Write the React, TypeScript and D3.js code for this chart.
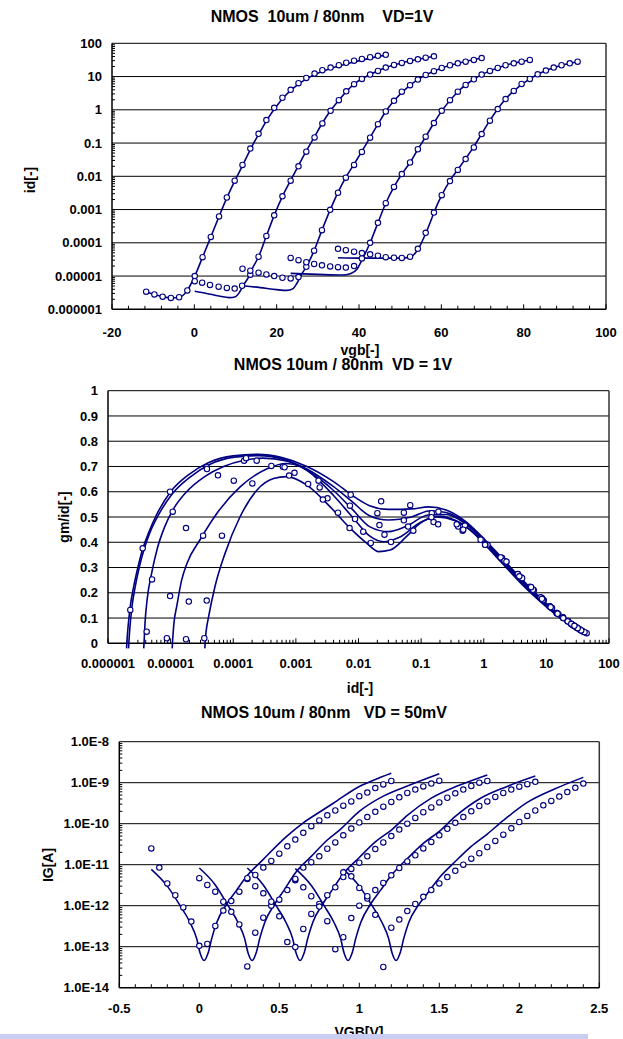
import React from "react";
import * as d3 from "d3";

const W = 623;
const H = 1039;
const NAVY = "#000080";
const FONT = "'Liberation Sans', Arial, Helvetica, sans-serif";

// ---------- chart 1 : id vs vgb (log) ----------
const idTicks = [1e-6, 1e-5, 1e-4, 1e-3, 1e-2, 0.1, 1, 10, 100];
const idTickLabels = ["0.000001", "0.00001", "0.0001", "0.001", "0.01", "0.1", "1", "10", "100"];
const vgbTicks = [-20, 0, 20, 40, 60, 80, 100];

const idMeas1 = [[-11.7, 3.4e-6], [-9.7, 2.8e-6], [-7.7, 2.4e-6], [-5.7, 2.2e-6], [-3.7, 2.3e-6], [-1.7, 3.7e-6], [0.1, 1.0e-5], [2.0, 3.7e-5], [4.0, 1.5e-4], [6.0, 6.2e-4], [7.9, 2.3e-3], [9.8, 7.4e-3], [11.7, 0.022], [13.6, 0.068], [15.6, 0.19], [17.5, 0.49], [19.4, 1.15], [21.4, 2.3], [23.4, 4.0], [25.3, 6.3], [27.2, 9.1], [29.2, 12.3], [31.1, 15.5], [33.1, 18.6], [35.1, 22], [36.9, 26], [38.8, 30], [40.7, 34], [42.7, 38], [44.6, 42], [46.5, 45]];
const idMeas2 = [[0.1, 7.0e-6], [1.9, 6.3e-6], [3.8, 5.4e-6], [5.9, 4.8e-6], [7.9, 4.4e-6], [9.8, 4.2e-6], [11.6, 5.1e-6], [13.6, 1.1e-5], [15.6, 3.8e-5], [17.5, 1.6e-4], [19.4, 6.7e-4], [21.4, 2.5e-3], [23.4, 7.4e-3], [25.3, 0.02], [27.2, 0.055], [29.2, 0.148], [31.1, 0.39], [33.1, 0.93], [35.1, 1.95], [36.9, 3.6], [38.8, 5.9], [40.7, 8.5], [42.7, 11.5], [44.6, 14.8], [46.5, 18.6], [48.5, 22.4], [50.4, 25.7], [52.4, 29.5], [54.3, 33], [56.2, 37], [58.2, 40.7]];
const idMeas3 = [[11.7, 1.66e-5], [13.6, 1.45e-5], [15.6, 1.26e-5], [17.5, 1.12e-5], [19.4, 1.0e-5], [21.4, 8.9e-6], [23.4, 8.5e-6], [25.3, 9.3e-6], [27.2, 1.9e-5], [29.1, 5.8e-5], [31.0, 2.4e-4], [33.0, 9.8e-4], [34.9, 3.2e-3], [36.8, 9.1e-3], [38.8, 0.022], [40.7, 0.054], [42.7, 0.145], [44.6, 0.37], [46.5, 0.89], [48.5, 1.86], [50.4, 3.5], [52.4, 5.5], [54.3, 8.1], [56.2, 11.2], [58.2, 14.5], [60.1, 18.2], [62.1, 21.9], [64.0, 25], [65.9, 28], [67.9, 31.6], [69.8, 36]];
const idMeas4 = [[23.4, 3.5e-5], [25.3, 3.0e-5], [27.2, 2.6e-5], [29.1, 2.3e-5], [31.0, 2.1e-5], [33.0, 1.95e-5], [34.9, 1.85e-5], [36.8, 1.8e-5], [38.8, 2.0e-5], [40.7, 3.4e-5], [42.7, 1.0e-4], [44.6, 4.0e-4], [46.5, 1.55e-3], [48.5, 4.8e-3], [50.4, 0.0117], [52.4, 0.026], [54.3, 0.065], [56.2, 0.155], [58.2, 0.4], [60.1, 0.93], [62.1, 1.95], [64.0, 3.5], [65.9, 5.6], [67.9, 8.3], [69.8, 11.5], [71.8, 14.8], [73.7, 18.2], [75.6, 21.9], [77.6, 25], [79.5, 28], [81.5, 31.6]];
const idMeas5 = [[34.9, 6.6e-5], [36.8, 6.0e-5], [38.8, 5.4e-5], [40.7, 4.9e-5], [42.7, 4.5e-5], [44.6, 4.1e-5], [46.5, 3.7e-5], [48.5, 3.55e-5], [50.4, 3.5e-5], [52.4, 3.8e-5], [54.3, 6.6e-5], [56.2, 2.0e-4], [58.2, 8.1e-4], [60.1, 2.7e-3], [62.1, 7.2e-3], [64.0, 0.0155], [65.9, 0.033], [67.9, 0.074], [69.8, 0.186], [71.8, 0.47], [73.7, 1.05], [75.6, 2.1], [77.6, 3.7], [79.5, 6.0], [81.5, 8.5], [83.4, 11.7], [85.4, 15.1], [87.3, 18.6], [89.2, 21.9], [91.2, 25], [93.1, 28]];

const idSim1 = [[-11.7, 3.4e-6], [-9.7, 2.8e-6], [-7.7, 2.4e-6], [-5.7, 2.2e-6], [-3.7, 2.3e-6], [-1.7, 3.7e-6], [0.1, 1.0e-5], [2.0, 3.7e-5], [4.0, 1.5e-4], [6, 6.2e-4], [8, 2.4e-3], [10, 8e-3], [12, 0.025], [14, 0.08], [16, 0.22], [18, 0.58], [20, 1.3], [22, 2.6], [24, 4.4], [26, 6.8], [28, 9.6], [30, 12.6], [34, 19], [38, 26], [42, 34], [46.5, 44]];
const idSim2 = [[0.1, 3.5e-6], [3, 3.0e-6], [6, 2.5e-6], [8.5, 2.25e-6], [10, 2.4e-6], [11, 3.3e-6], [12, 5.5e-6], [13, 8.5e-6], [14, 1.6e-5], [15.6, 3.8e-5], [17.5, 1.6e-4], [19.4, 6.7e-4], [21.4, 2.5e-3], [23.4, 7.6e-3], [25.3, 0.021], [27.2, 0.058], [29.2, 0.155], [31.1, 0.4], [33.1, 0.95], [35.1, 1.95], [38.8, 5.9], [42.7, 11.5], [46.5, 18.6], [50.4, 25.7], [54.3, 33], [58.2, 40.7]];
const idSim3 = [[11.7, 5.1e-6], [16, 4.5e-6], [20, 3.9e-6], [22.5, 3.7e-6], [24, 4.2e-6], [25, 6.3e-6], [26, 1.1e-5], [27.2, 1.9e-5], [29.1, 5.8e-5], [31, 2.4e-4], [33, 9.8e-4], [34.9, 3.3e-3], [36.8, 9.3e-3], [38.8, 0.023], [40.7, 0.056], [42.7, 0.148], [44.6, 0.37], [46.5, 0.89], [48.5, 1.86], [52.4, 5.5], [56.2, 11.2], [60.1, 18.2], [64, 25], [69.8, 36]];
const idSim4 = [[23.4, 1.2e-5], [30, 1.12e-5], [36, 1.07e-5], [38, 1.2e-5], [39.5, 1.6e-5], [40.7, 3.0e-5], [42.7, 1.0e-4], [44.6, 4.0e-4], [46.5, 1.55e-3], [48.5, 4.8e-3], [50.4, 0.0117], [52.4, 0.026], [54.3, 0.065], [56.2, 0.155], [58.2, 0.4], [60.1, 0.93], [64, 3.5], [67.9, 8.3], [71.8, 14.8], [75.6, 21.9], [81.5, 31.6]];
const idSim5 = [[34.9, 3.55e-5], [40, 3.47e-5], [46, 3.47e-5], [50, 3.47e-5], [52.4, 3.7e-5], [54.3, 6.3e-5], [56.2, 1.9e-4], [57.5, 4.8e-4], [58.2, 8.1e-4], [60.1, 2.7e-3], [62.1, 7.4e-3], [64, 0.016], [65.9, 0.034], [67.9, 0.078], [69.8, 0.19], [71.8, 0.48], [73.7, 1.06], [75.6, 2.1], [77.6, 3.7], [81.5, 8.5], [85.4, 15.1], [89.2, 21.9], [93.1, 28]];

// ---------- chart 2 : gm/id vs id ----------
const gmTicks = [0, 0.1, 0.2, 0.3, 0.4, 0.5, 0.6, 0.7, 0.8, 0.9, 1];
const gmTickLabels = ["0", "0.1", "0.2", "0.3", "0.4", "0.5", "0.6", "0.7", "0.8", "0.9", "1"];

const gmMeas1 = [[2.27e-6, 0.132], [3.58e-6, 0.376], [9.8e-6, 0.6], [3.77e-5, 0.697], [1.49e-4, 0.723], [6.2e-4, 0.699], [2.3e-3, 0.644], [7.5e-3, 0.588], [0.023, 0.562], [0.067, 0.547], [0.189, 0.521], [0.5, 0.466], [1.15, 0.39], [2.3, 0.323], [4.0, 0.26], [6.3, 0.21], [9.1, 0.17], [12.3, 0.14], [15.6, 0.115], [18.6, 0.1], [22, 0.087], [26, 0.073], [30, 0.063], [34.7, 0.053], [39, 0.046], [44, 0.04]];
const gmMeas2 = [[4.15e-6, 0.046], [5.05e-6, 0.253], [1.08e-5, 0.521], [3.8e-5, 0.69], [1.6e-4, 0.733], [6.6e-4, 0.697], [2.4e-3, 0.617], [7.3e-3, 0.545], [0.02, 0.515], [0.053, 0.517], [0.148, 0.515], [0.39, 0.462], [0.93, 0.409], [1.95, 0.339], [3.5, 0.273], [5.7, 0.222], [8.5, 0.179], [11.5, 0.145], [14.7, 0.119], [18.3, 0.103], [22.5, 0.086], [26.5, 0.072], [30.7, 0.063], [34, 0.056], [37, 0.05], [40.7, 0.044]];
const gmMeas3 = [[8.7e-6, 0.02], [9.8e-6, 0.187], [1.76e-5, 0.456], [5.7e-5, 0.665], [2.37e-4, 0.723], [9.5e-4, 0.675], [3.2e-3, 0.574], [8.8e-3, 0.492], [0.0216, 0.468], [0.053, 0.487], [0.146, 0.499], [0.37, 0.471], [0.89, 0.41], [1.86, 0.34], [3.5, 0.274], [5.5, 0.224], [8.1, 0.182], [11.2, 0.147], [14.5, 0.12], [18.2, 0.103], [21.9, 0.088], [25, 0.076], [28, 0.068], [31.6, 0.06], [36, 0.051]];
const gmMeas4 = [[1.76e-5, 0.016], [1.95e-5, 0.165], [3.3e-5, 0.426], [1.02e-4, 0.644], [4.06e-4, 0.702], [1.57e-3, 0.631], [4.7e-3, 0.517], [0.0119, 0.442], [0.026, 0.43], [0.062, 0.462], [0.158, 0.48], [0.46, 0.446], [1.06, 0.39], [2.15, 0.326], [4.1, 0.258], [6.1, 0.212], [8.9, 0.171], [11.5, 0.146], [14.8, 0.12], [18.2, 0.103], [21.9, 0.088], [25, 0.076], [28, 0.068], [31.6, 0.06]];
const gmMeas5 = [[3.45e-5, 0.02], [3.77e-5, 0.169], [6.6e-5, 0.426], [2.02e-4, 0.633], [7.8e-4, 0.664], [2.7e-3, 0.569], [7.2e-3, 0.456], [0.0157, 0.397], [0.033, 0.401], [0.075, 0.446], [0.187, 0.471], [0.47, 0.45], [1.05, 0.39], [2.3, 0.323], [3.7, 0.265], [5.7, 0.222], [8.5, 0.176], [11.7, 0.143], [15.1, 0.117], [18.6, 0.1], [21.9, 0.087], [25, 0.077], [28, 0.069]];

const gmSim1 = [[1.98e-6, -0.02], [2.0e-6, 0], [2.1e-6, 0.07], [2.25e-6, 0.14], [2.6e-6, 0.23], [3.0e-6, 0.3], [3.6e-6, 0.375], [4.5e-6, 0.44], [6e-6, 0.51], [1e-5, 0.6], [2e-5, 0.67], [4e-5, 0.715], [1e-4, 0.742], [2.5e-4, 0.748], [6e-4, 0.735], [1.5e-3, 0.7], [4e-3, 0.64], [8e-3, 0.585], [1.5e-2, 0.545], [3e-2, 0.53], [7e-2, 0.532], [0.13, 0.54], [0.25, 0.528], [0.5, 0.485], [1, 0.415], [2, 0.335], [4, 0.255], [8, 0.18], [15, 0.12], [25, 0.08], [44, 0.04]];
const gmSim2 = [[2.13e-6, -0.02], [2.15e-6, 0], [2.25e-6, 0.07], [2.4e-6, 0.14], [2.75e-6, 0.23], [3.15e-6, 0.3], [3.8e-6, 0.375], [4.7e-6, 0.44], [6.3e-6, 0.505], [1.05e-5, 0.59], [2.1e-5, 0.66], [4.2e-5, 0.708], [1.05e-4, 0.737], [2.6e-4, 0.743], [6e-4, 0.73], [1.5e-3, 0.69], [4e-3, 0.62], [8e-3, 0.56], [1.5e-2, 0.505], [3e-2, 0.488], [7e-2, 0.5], [0.14, 0.525], [0.25, 0.518], [0.5, 0.48], [1, 0.41], [2, 0.33], [4, 0.25], [8, 0.176], [15, 0.117], [25, 0.078], [42, 0.042]];
const gmSim3 = [[3.72e-6, -0.02], [3.76e-6, 0], [3.9e-6, 0.08], [4.2e-6, 0.17], [5e-6, 0.28], [6.2e-6, 0.38], [8e-6, 0.46], [1.1e-5, 0.53], [1.8e-5, 0.6], [3.5e-5, 0.66], [7e-5, 0.7], [1.5e-4, 0.725], [3e-4, 0.733], [7e-4, 0.722], [1.5e-3, 0.685], [4e-3, 0.605], [8e-3, 0.53], [1.5e-2, 0.462], [3e-2, 0.442], [6e-2, 0.465], [0.13, 0.508], [0.25, 0.51], [0.5, 0.475], [1, 0.405], [2, 0.325], [4, 0.245], [8, 0.172], [15, 0.114], [25, 0.075], [40, 0.043]];
const gmSim4 = [[1.06e-5, -0.02], [1.07e-5, 0], [1.12e-5, 0.07], [1.26e-5, 0.15], [1.5e-5, 0.25], [1.85e-5, 0.32], [2.95e-5, 0.41], [5.5e-5, 0.515], [1.3e-4, 0.62], [3.4e-4, 0.69], [7e-4, 0.712], [1.2e-3, 0.7], [2e-3, 0.66], [4e-3, 0.585], [8e-3, 0.5], [1.5e-2, 0.425], [2.5e-2, 0.402], [4.5e-2, 0.42], [0.1, 0.48], [0.2, 0.503], [0.4, 0.48], [1, 0.4], [2, 0.32], [4, 0.24], [8, 0.168], [15, 0.111], [25, 0.073], [38, 0.046]];
const gmSim5 = [[3.52e-5, -0.02], [3.55e-5, 0], [3.7e-5, 0.05], [4e-5, 0.1], [5.1e-5, 0.224], [7.4e-5, 0.356], [1.28e-4, 0.5], [2.4e-4, 0.607], [4.4e-4, 0.652], [7.1e-4, 0.66], [1.48e-3, 0.627], [3.5e-3, 0.541], [7.4e-3, 0.455], [1.36e-2, 0.396], [2.1e-2, 0.363], [3.2e-2, 0.369], [5.8e-2, 0.422], [0.096, 0.475], [0.18, 0.5], [0.35, 0.485], [0.6, 0.45], [1, 0.395], [2, 0.315], [4, 0.235], [8, 0.165], [15, 0.109], [25, 0.071], [35, 0.052]];

// ---------- chart 3 : IG vs VGB ----------
const igTicks = [1e-14, 1e-13, 1e-12, 1e-11, 1e-10, 1e-9, 1e-8];
const igTickLabels = ["1.0E-14", "1.0E-13", "1.0E-12", "1.0E-11", "1.0E-10", "1.0E-9", "1.0E-8"];
const vTicks = [-0.5, 0, 0.5, 1, 1.5, 2, 2.5];
const vTickLabels = ["-0.5", "0", "0.5", "1", "1.5", "2", "2.5"];

const igMeas1 = [[-0.30, 2.5e-11], [-0.25, 8.5e-12], [-0.20, 3.5e-12], [-0.15, 1.8e-12], [-0.10, 9.1e-13], [-0.05, 4.1e-13], [0.00, 1.05e-13], [0.05, 1.17e-13], [0.10, 3.2e-13], [0.15, 7.6e-13], [0.20, 1.3e-12], [0.25, 2.2e-12], [0.30, 4.5e-12], [0.35, 5.6e-12], [0.40, 8.5e-12], [0.45, 1.23e-11], [0.50, 1.86e-11], [0.55, 2.8e-11], [0.60, 4.1e-11], [0.65, 6.0e-11], [0.70, 8.7e-11], [0.75, 1.2e-10], [0.80, 1.6e-10], [0.85, 2.1e-10], [0.90, 2.75e-10], [0.95, 3.5e-10], [1.00, 4.7e-10], [1.05, 5.75e-10], [1.10, 7.4e-10], [1.15, 9.1e-10], [1.20, 1.1e-9]];
const igMeas2 = [[0.00, 4.7e-12], [0.05, 3.2e-12], [0.10, 2.2e-12], [0.15, 1.25e-12], [0.20, 7.1e-13], [0.25, 3.5e-13], [0.30, 3.3e-14], [0.35, 2.2e-13], [0.40, 5.1e-13], [0.45, 1.0e-12], [0.50, 1.4e-12], [0.55, 2.4e-12], [0.60, 4.2e-12], [0.65, 8.5e-12], [0.70, 1.15e-11], [0.75, 1.6e-11], [0.80, 2.45e-11], [0.85, 3.5e-11], [0.90, 5.2e-11], [0.95, 7.6e-11], [1.00, 1.07e-10], [1.05, 1.45e-10], [1.10, 1.95e-10], [1.15, 2.6e-10], [1.20, 3.4e-10], [1.25, 4.4e-10], [1.30, 5.6e-10], [1.35, 6.8e-10], [1.40, 8.1e-10], [1.45, 9.5e-10], [1.50, 1.12e-9]];
const igMeas3 = [[0.30, 4.7e-12], [0.35, 3.0e-12], [0.40, 2.0e-12], [0.45, 1.25e-12], [0.50, 5.5e-13], [0.55, 1.3e-13], [0.60, 9.8e-14], [0.65, 2.7e-13], [0.70, 6.3e-13], [0.75, 1.1e-12], [0.80, 1.8e-12], [0.85, 2.8e-12], [0.90, 5.0e-12], [0.95, 7.9e-12], [1.00, 1.12e-11], [1.05, 1.6e-11], [1.10, 2.4e-11], [1.15, 3.5e-11], [1.20, 5.0e-11], [1.25, 7.2e-11], [1.30, 1.0e-10], [1.35, 1.38e-10], [1.40, 1.9e-10], [1.45, 2.5e-10], [1.50, 3.3e-10], [1.55, 4.3e-10], [1.60, 5.5e-10], [1.65, 6.8e-10], [1.70, 8.3e-10], [1.75, 1.0e-9], [1.80, 1.1e-9]];
const igMeas4 = [[0.60, 4.5e-12], [0.65, 2.8e-12], [0.70, 1.7e-12], [0.75, 9.5e-13], [0.80, 4.2e-13], [0.85, 8.7e-14], [0.90, 1.7e-13], [0.95, 5.0e-13], [1.00, 1.0e-12], [1.05, 1.5e-12], [1.10, 2.4e-12], [1.15, 3.6e-12], [1.20, 5.5e-12], [1.25, 8.3e-12], [1.30, 1.2e-11], [1.35, 1.7e-11], [1.40, 2.5e-11], [1.45, 3.6e-11], [1.50, 5.2e-11], [1.55, 7.5e-11], [1.60, 1.05e-10], [1.65, 1.45e-10], [1.70, 2.0e-10], [1.75, 2.7e-10], [1.80, 3.5e-10], [1.85, 4.5e-10], [1.90, 5.6e-10], [1.95, 6.8e-10], [2.00, 8.0e-10], [2.05, 9.2e-10], [2.10, 1.05e-9]];
const igMeas5 = [[0.90, 6.5e-12], [0.95, 5.2e-12], [1.00, 2.7e-12], [1.05, 1.7e-12], [1.10, 6.0e-13], [1.15, 3.2e-14], [1.20, 2.9e-13], [1.25, 4.6e-13], [1.30, 7.4e-13], [1.35, 1.1e-12], [1.40, 1.65e-12], [1.45, 2.4e-12], [1.50, 3.5e-12], [1.55, 5.0e-12], [1.60, 7.1e-12], [1.65, 1.0e-11], [1.70, 1.4e-11], [1.75, 1.9e-11], [1.80, 2.7e-11], [1.85, 3.8e-11], [1.90, 5.4e-11], [1.95, 7.7e-11], [2.00, 1.1e-10], [2.05, 1.55e-10], [2.10, 2.1e-10], [2.15, 2.8e-10], [2.20, 3.6e-10], [2.25, 4.6e-10], [2.30, 5.9e-10], [2.35, 7.5e-10], [2.40, 9.5e-10]];

const igSim1 = [[-0.30, 7.7e-12], [-0.2, 3.0e-12], [-0.12, 1.0e-12], [-0.058, 3.9e-13], [-0.016, 1.55e-13], [0.004, 7.2e-14], [0.03, 4.6e-14], [0.056, 7.2e-14], [0.077, 1.55e-13], [0.109, 3.9e-13], [0.171, 1.1e-12], [0.23, 2.3e-12], [0.296, 5.2e-12], [0.4, 1.35e-11], [0.546, 4.9e-11], [0.65, 1.05e-10], [0.75, 1.9e-10], [0.84, 3.2e-10], [1.0, 8.1e-10], [1.1, 1.2e-9], [1.2, 1.7e-9]];
const igSim2 = [[0.00, 8.3e-12], [0.1, 3.2e-12], [0.18, 1.0e-12], [0.242, 3.9e-13], [0.284, 1.55e-13], [0.304, 7.2e-14], [0.33, 4.6e-14], [0.356, 7.2e-14], [0.377, 1.55e-13], [0.409, 3.9e-13], [0.471, 1.1e-12], [0.53, 2.4e-12], [0.6, 6.3e-12], [0.7, 1.6e-11], [0.8, 4.0e-11], [0.88, 7.2e-11], [1.0, 2.0e-10], [1.15, 4.7e-10], [1.32, 8.9e-10], [1.5, 1.65e-9]];
const igSim3 = [[0.30, 8.3e-12], [0.4, 3.2e-12], [0.48, 1.0e-12], [0.542, 3.9e-13], [0.584, 1.55e-13], [0.604, 7.2e-14], [0.63, 4.6e-14], [0.656, 7.2e-14], [0.677, 1.55e-13], [0.709, 3.9e-13], [0.771, 1.1e-12], [0.83, 2.4e-12], [0.9, 6.0e-12], [1.0, 1.5e-11], [1.1, 3.6e-11], [1.2, 7.0e-11], [1.3, 1.6e-10], [1.45, 4.2e-10], [1.62, 8.5e-10], [1.8, 1.55e-9]];
const igSim4 = [[0.60, 8.0e-12], [0.7, 3.1e-12], [0.78, 1.0e-12], [0.842, 3.9e-13], [0.884, 1.55e-13], [0.904, 7.2e-14], [0.93, 4.6e-14], [0.956, 7.2e-14], [0.977, 1.55e-13], [1.009, 3.9e-13], [1.071, 1.1e-12], [1.13, 2.3e-12], [1.2, 5.5e-12], [1.3, 1.4e-11], [1.4, 3.3e-11], [1.5, 6.5e-11], [1.6, 1.5e-10], [1.75, 4.0e-10], [1.92, 8.0e-10], [2.1, 1.45e-9]];
const igSim5 = [[0.90, 7.8e-12], [1.0, 3.0e-12], [1.08, 1.0e-12], [1.142, 3.9e-13], [1.184, 1.55e-13], [1.204, 7.2e-14], [1.23, 4.6e-14], [1.256, 7.2e-14], [1.277, 1.55e-13], [1.309, 3.9e-13], [1.371, 1.05e-12], [1.43, 2.1e-12], [1.5, 4.8e-12], [1.6, 1.2e-11], [1.7, 2.8e-11], [1.8, 5.6e-11], [1.9, 1.2e-10], [2.05, 3.3e-10], [2.22, 7.0e-10], [2.4, 1.35e-9]];

// plot boxes [left, right, top, bottom]
const box1 = [112, 606, 43.3, 309.3];
const box2 = [108, 609, 390.7, 643.3];
const box3 = [119.3, 599.3, 741.7, 987.7];

const x1 = d3.scaleLinear().domain([-20, 100]).range([box1[0], box1[1]]);
const y1 = d3.scaleLog().domain([1e-6, 100]).range([box1[3], box1[2]]);
const x2 = d3.scaleLog().domain([1e-6, 100]).range([box2[0], box2[1]]);
const y2 = d3.scaleLinear().domain([0, 1]).range([box2[3], box2[2]]);
const x3 = d3.scaleLinear().domain([-0.5, 2.5]).range([box3[0], box3[1]]);
const y3 = d3.scaleLog().domain([1e-14, 1e-8]).range([box3[3], box3[2]]);

// minor ticks in log decades (2..9)
function logMinor(lo, hi) {
  const out = [];
  for (let e = lo; e < hi; e++) for (let m = 2; m <= 9; m++) out.push(m * Math.pow(10, e));
  return out;
}

const txt = { fontFamily: FONT, fontWeight: "bold", fill: "#000" };

function Series({ meas, sim, xs, ys }) {
  const line = d3.line().x(d => xs(d[0])).y(d => ys(d[1])).curve(d3.curveMonotoneX);
  return (
    <g>
      {sim.map((s, i) => (
        <path key={"l" + i} d={line(s)} fill="none" stroke={NAVY} strokeWidth={1.6} />
      ))}
      {meas.map((s, i) =>
        s.map((d, j) => (
          <circle key={"c" + i + "_" + j} cx={xs(d[0])} cy={ys(d[1])} r={2.7}
            fill="#fff" stroke={NAVY} strokeWidth={1.1} />
        ))
      )}
    </g>
  );
}

function Frame({ box, grid }) {
  const [l, r, t, b] = box;
  return (
    <g>
      {grid.map((g, i) => (
        <line key={i} x1={l} x2={r} y1={g} y2={g} stroke="#000" strokeWidth={1} />
      ))}
      <line x1={l} x2={r} y1={t} y2={t} stroke="#000" strokeWidth={1} />
      <line x1={r} x2={r} y1={t} y2={b} stroke="#333" strokeWidth={1.5} />
      <line x1={l} x2={l} y1={t} y2={b} stroke="#000" strokeWidth={1.5} />
      <line x1={l} x2={r} y1={b} y2={b} stroke="#000" strokeWidth={1.5} />
    </g>
  );
}

export default function App() {
  const b1 = box1, b2 = box2, b3 = box3;
  const x1Minor = d3.range(-20, 100.1, 4);
  const x3Minor = d3.range(-0.5, 2.501, 0.1);
  return (
    <svg width={W} height={H} style={{ position: "absolute", left: 0, top: 0, background: "#fff" }}>
      <rect x={0} y={0} width={W} height={H} fill="#fff" />

      {/* ---------------- chart 1 ---------------- */}
      <text x={322} y={22} textAnchor="middle" fontSize={16} style={{ ...txt, whiteSpace: "pre" }}>
        {"NMOS  10um / 80nm    VD=1V"}
      </text>
      <Frame box={b1} grid={idTicks.slice(1, -1).map(v => y1(v))} />
      {logMinor(-6, 2).map((v, i) => (
        <line key={i} x1={b1[0]} x2={b1[0] + 3} y1={y1(v)} y2={y1(v)} stroke="#000" strokeWidth={1} />
      ))}
      {x1Minor.map((v, i) => (
        <line key={i} x1={x1(v)} x2={x1(v)} y1={b1[3]} y2={b1[3] - (v % 20 === 0 ? 5 : 3.5)} stroke="#000" strokeWidth={1} />
      ))}
      {idTicks.map((v, i) => (
        <text key={i} x={102} y={y1(v) + 4.6} textAnchor="end" fontSize={13} style={txt}>{idTickLabels[i]}</text>
      ))}
      {vgbTicks.map((v, i) => (
        <text key={i} x={x1(v)} y={336.5} textAnchor="middle" fontSize={13} style={txt}>{v}</text>
      ))}
      <text x={360} y={355} textAnchor="middle" fontSize={14} style={txt}>vgb[-]</text>
      <text transform="translate(30,180) rotate(-90)" textAnchor="middle" dy="0.35em" fontSize={14} style={txt}>id[-]</text>
      <Series xs={x1} ys={y1}
        meas={[idMeas1, idMeas2, idMeas3, idMeas4, idMeas5]}
        sim={[idSim1, idSim2, idSim3, idSim4, idSim5]} />

      {/* ---------------- chart 2 ---------------- */}
      <text x={343} y={369.5} textAnchor="middle" fontSize={16} style={{ ...txt, whiteSpace: "pre" }}>
        {"NMOS 10um / 80nm  VD = 1V"}
      </text>
      <Frame box={b2} grid={gmTicks.slice(1, -1).map(v => y2(v))} />
      {logMinor(-6, 2).map((v, i) => (
        <line key={i} x1={x2(v)} x2={x2(v)} y1={b2[3]} y2={b2[3] - 3.5} stroke="#000" strokeWidth={1} />
      ))}
      {idTicks.map((v, i) => (
        <line key={i} x1={x2(v)} x2={x2(v)} y1={b2[3]} y2={b2[3] - 5} stroke="#000" strokeWidth={1} />
      ))}
      {gmTicks.map((v, i) => (
        <text key={i} x={98} y={y2(v) + 4.6} textAnchor="end" fontSize={13} style={txt}>{gmTickLabels[i]}</text>
      ))}
      {idTicks.map((v, i) => (
        <text key={i} x={x2(v)} y={667.5} textAnchor="middle" fontSize={13} style={txt}>{idTickLabels[i]}</text>
      ))}
      <text x={360} y={693} textAnchor="middle" fontSize={14} style={txt}>id[-]</text>
      <text transform="translate(64,517) rotate(-90)" textAnchor="middle" dy="0.35em" fontSize={14} style={txt}>gm/id[-]</text>
      <Series xs={x2} ys={y2}
        meas={[gmMeas1, gmMeas2, gmMeas3, gmMeas4, gmMeas5]}
        sim={[gmSim1, gmSim2, gmSim3, gmSim4, gmSim5]} />

      {/* ---------------- chart 3 ---------------- */}
      <text x={324} y={717.5} textAnchor="middle" fontSize={16} style={{ ...txt, whiteSpace: "pre" }}>
        {"NMOS 10um / 80nm   VD = 50mV"}
      </text>
      <Frame box={b3} grid={igTicks.slice(1, -1).map(v => y3(v))} />
      {logMinor(-14, -8).map((v, i) => (
        <line key={i} x1={b3[0]} x2={b3[0] + 3} y1={y3(v)} y2={y3(v)} stroke="#000" strokeWidth={1} />
      ))}
      {x3Minor.map((v, i) => (
        <line key={i} x1={x3(v)} x2={x3(v)} y1={b3[3]} y2={b3[3] - (i % 5 === 0 ? 5 : 3.5)} stroke="#000" strokeWidth={1} />
      ))}
      {igTicks.map((v, i) => (
        <text key={i} x={109} y={y3(v) + 4.6} textAnchor="end" fontSize={13} style={txt}>{igTickLabels[i]}</text>
      ))}
      {vTicks.map((v, i) => (
        <text key={i} x={x3(v)} y={1012.5} textAnchor="middle" fontSize={13} style={txt}>{vTickLabels[i]}</text>
      ))}
      <text transform="translate(48,865) rotate(-90)" textAnchor="middle" dy="0.35em" fontSize={14} style={txt}>IG[A]</text>
      <Series xs={x3} ys={y3}
        meas={[igMeas1, igMeas2, igMeas3, igMeas4, igMeas5]}
        sim={[igSim1, igSim2, igSim3, igSim4, igSim5]} />
      <text x={359} y={1037} textAnchor="middle" fontSize={14} style={txt}>VGB[V]</text>

      {/* light band along the bottom edge */}
      <rect x={0} y={1034} width={588} height={5} fill="#c9cdf2" />
    </svg>
  );
}
